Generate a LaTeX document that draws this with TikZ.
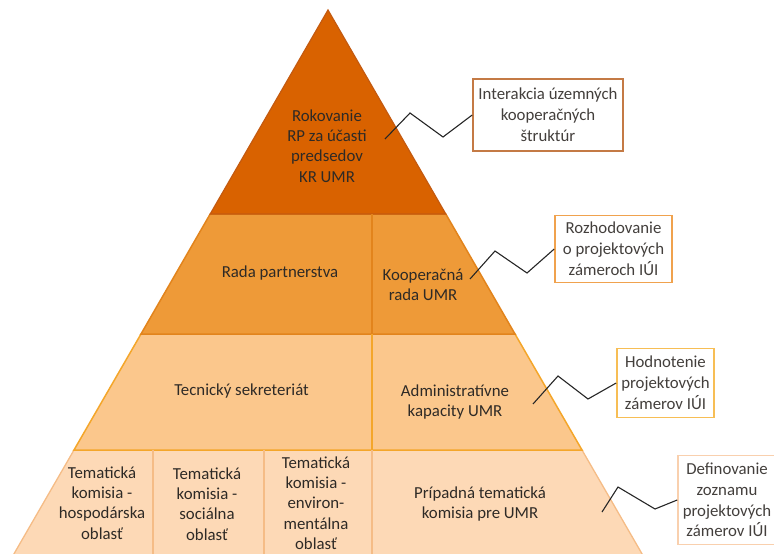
\documentclass[tikz,border=0pt]{standalone}
\usepackage{fontspec}
\setmainfont{Carlito}
\definecolor{ctop}{HTML}{D96200}
\definecolor{ctopb}{HTML}{C45A10}
\definecolor{cl2}{HTML}{EE9A38}
\definecolor{cl2b}{HTML}{E2841C}
\definecolor{cl3}{HTML}{FBC78C}
\definecolor{cl3b}{HTML}{F4A62A}
\definecolor{cl4}{HTML}{FDD9B6}
\definecolor{cl4b}{HTML}{F5BC86}
\definecolor{ctext}{HTML}{2E2A26}
\definecolor{cbox1}{HTML}{C47A45}
\definecolor{cbox2}{HTML}{F0A24E}
\definecolor{cbox3}{HTML}{F7BE55}
\definecolor{cbox4}{HTML}{F9D0AE}
\tikzset{
  lbl/.style={align=center, inner sep=0pt, text=ctext, font=\fontsize{16.8}{20.3}\selectfont},
  callout/.style={draw=#1, line width=1.6pt, fill=white, align=center, inner sep=0pt,
    text=ctext!90, font=\fontsize{16.8}{20.8}\selectfont},
  zig/.style={draw=black!85, line width=1.1pt, line join=miter}
}
\begin{document}
\begin{tikzpicture}[x=1pt,y=-1pt]
\useasboundingbox (0,0) rectangle (774,554);
\clip (0,0) rectangle (774,554);
% layers
\path[fill=cl4, draw=cl4b, line width=1.3pt] (74,450) -- (582,450) -- (668.7,600) -- (-12.7,600) -- cycle;
\path[fill=cl3, draw=cl3b, line width=1.5pt] (141,334) -- (515,334) -- (582,450) -- (74,450) -- cycle;
\path[fill=cl2, draw=cl2b, line width=1.5pt] (210.2,214) -- (445.8,214) -- (515,334) -- (141,334) -- cycle;
\path[fill=ctop, draw=ctopb, line width=1.2pt] (328,10) -- (445.8,214) -- (210.2,214) -- cycle;
% dividers
\draw[cl2b, line width=1.3pt] (372,214) -- (372,334);
\draw[cl3b, line width=1.3pt] (372,334) -- (372,450);
\draw[cl4b, line width=1.2pt] (153,450) -- (153,600) (264,450) -- (264,600) (372,450) -- (372,600);
% texts
\node[lbl] (top) at (327,146) {Rokovanie\\RP za účasti\\predsedov\\KR UMR};
\node[lbl] (rp) at (280,273) {Rada partnerstva};
\node[lbl] (kr) at (423,285) {Kooperačná\\rada UMR};
\node[lbl] (ts) at (241.5,391) {Tecnický sekreteriát};
\node[lbl] (ak) at (455,402) {Administratívne\\kapacity UMR};
\node[lbl] (t1) at (102,503) {Tematická\\komisia -\\hospodárska\\oblasť};
\node[lbl] (t2) at (207,504) {Tematická\\komisia -\\sociálna\\oblasť};
\node[lbl] (t3) at (316,503) {Tematická\\komisia -\\environ-\\mentálna\\oblasť};
\node[lbl] (t4) at (480,504) {Prípadná tematická\\komisia pre UMR};
% callouts
\node[callout=cbox1, minimum width=150pt, minimum height=72pt] (b1) at (548,115) {Interakcia územných\\kooperačných\\štruktúr};
\node[callout=cbox2, minimum width=117pt, minimum height=67pt] (b2) at (613.5,249) {Rozhodovanie\\o projektových\\zámeroch IÚI};
\node[callout=cbox3, minimum width=97pt, minimum height=69pt] (b3) at (665.5,383) {Hodnotenie\\projektových\\zámerov IÚI};
\node[callout=cbox4, minimum width=98pt, minimum height=89pt] (b4) at (727,500) {Definovanie\\zoznamu\\projektových\\zámerov IÚI};
% zigzag connectors
\coordinate (s1) at (385,139);
\coordinate (s2) at (470,279);
\coordinate (s3) at (533,404);
\coordinate (s4) at (602,512);
\draw[zig] (s1) -- (410,113) -- (443,137) -- (b1.west);
\draw[zig] (s2) -- (495,251) -- (527,273) -- (b2.west);
\draw[zig] (s3) -- (558,376) -- (588,399) -- (b3.west);
\draw[zig] (s4) -- (618,487) -- (655,509) -- (b4.west);
\end{tikzpicture}
\end{document}
